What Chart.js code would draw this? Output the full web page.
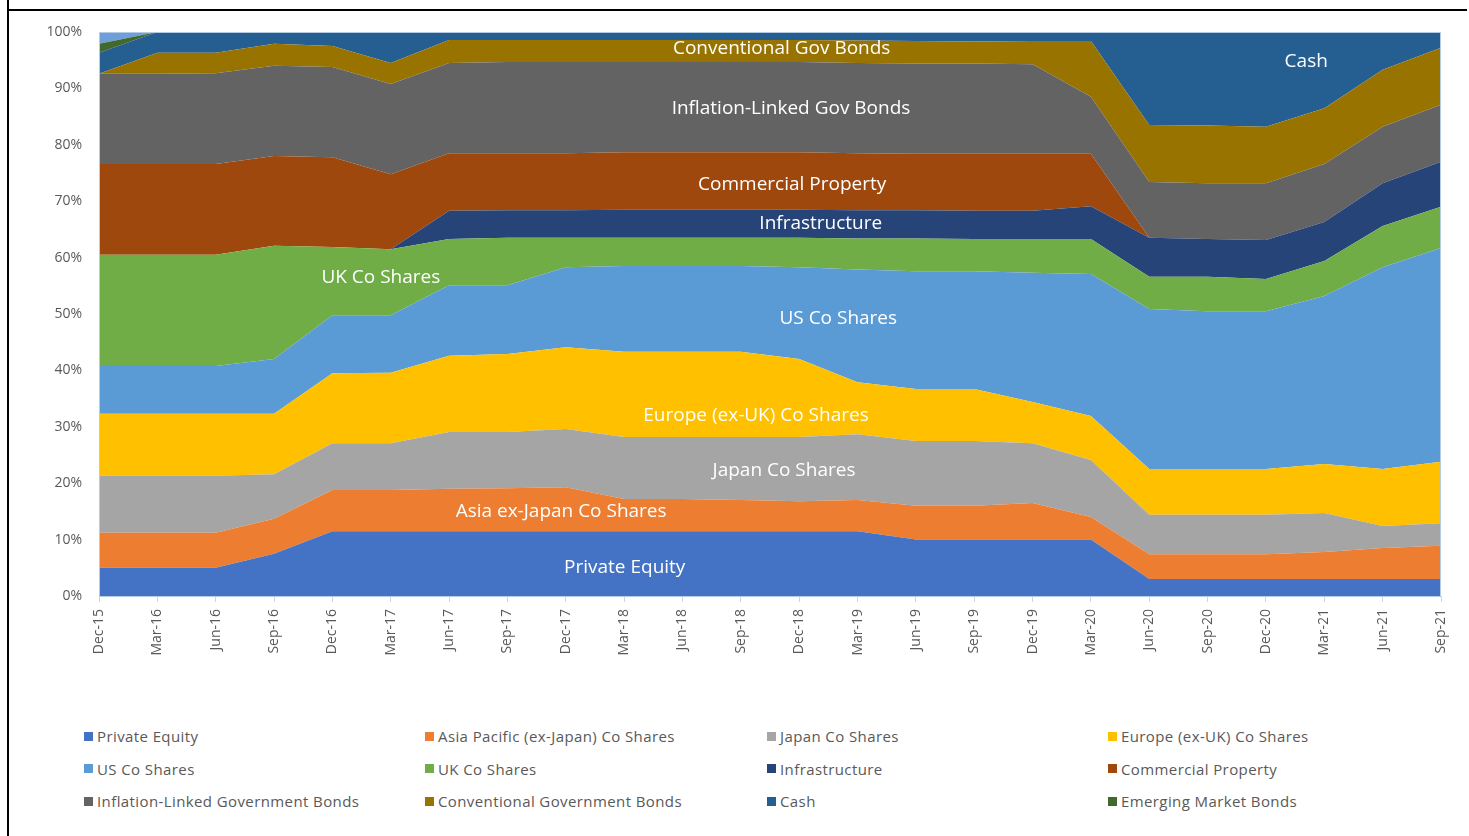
<!DOCTYPE html>
<html lang="en">
<head>
  <meta charset="UTF-8">
  <title>Historical Asset Allocation</title>
  <script src="https://cdn.jsdelivr.net/npm/chart.js"></script>
  <style>
    html, body { margin: 0; padding: 0; background: #fff; }
    body { width: 1469px; height: 836px; overflow: hidden; position: relative; font-family: "Open Sans", sans-serif; }
    .frame-top { position: absolute; left: 7px; top: 9px; width: 1460px; height: 0; border-top: 2px solid #000; }
    .frame-left { position: absolute; left: 7px; top: 0; width: 0; height: 836px; border-left: 2px solid #000; }
    #wrap { position: absolute; left: 0; top: 0; width: 1469px; height: 700px; }
    .legend { position: absolute; left: 84px; top: 720px; display: grid;
      grid-template-columns: 341px 342px 341px 320px; grid-auto-rows: 32.5px; }
    .legend-item { display: flex; align-items: center; font-size: 15px; color: #595959; letter-spacing: 0.4px; white-space: nowrap; }
    .legend-item i { display: inline-block; width: 9px; height: 9px; margin-right: 4px; }
  </style>
</head>
<body>
  <div class="frame-left"></div>
  <div class="frame-top"></div>
  <div id="wrap"><canvas id="allocChart" width="1469" height="700"></canvas></div>
  <div class="legend" id="legend"></div>

  <script>
    const quarters = ['Dec-15', 'Mar-16', 'Jun-16', 'Sep-16', 'Dec-16', 'Mar-17', 'Jun-17', 'Sep-17',
      'Dec-17', 'Mar-18', 'Jun-18', 'Sep-18', 'Dec-18', 'Mar-19', 'Jun-19', 'Sep-19',
      'Dec-19', 'Mar-20', 'Jun-20', 'Sep-20', 'Dec-20', 'Mar-21', 'Jun-21', 'Sep-21'];

    // allocation in % of fund, bottom of the stack first
    const privateEquity = [5, 5, 5, 7.5, 11.5, 11.5, 11.5, 11.5, 11.5, 11.5, 11.5, 11.5, 11.5, 11.5, 10, 10, 10, 10, 3, 3, 3, 3, 3, 3];
    const asiaPacific   = [6.2, 6.2, 6.2, 6.2, 7.3, 7.3, 7.5, 7.6, 7.8, 5.7, 5.7, 5.5, 5.3, 5.5, 6.0, 6.0, 6.5, 4.0, 4.4, 4.4, 4.4, 4.8, 5.5, 5.9];
    const japan         = [10.1, 10.1, 10.1, 7.9, 8.3, 8.3, 10.1, 10.0, 10.3, 11.0, 11.0, 11.2, 11.4, 11.7, 11.5, 11.5, 10.6, 10.1, 7.0, 7.0, 7.0, 6.9, 3.9, 4.0];
    const europe        = [11.0, 11.0, 11.0, 10.7, 12.4, 12.5, 13.5, 13.8, 14.5, 15.1, 15.1, 15.1, 13.8, 9.2, 9.2, 9.2, 7.3, 7.8, 8.1, 8.1, 8.1, 8.7, 10.1, 10.9];
    const usShares      = [8.5, 8.5, 8.5, 9.7, 10.3, 10.2, 12.5, 12.2, 14.2, 15.2, 15.2, 15.2, 16.3, 20.0, 20.9, 20.9, 22.9, 25.2, 28.4, 28.0, 28.0, 29.8, 35.8, 37.9];
    const ukShares      = [19.7, 19.7, 19.7, 20.1, 12.1, 11.7, 8.2, 8.4, 5.2, 5.0, 5.0, 5.0, 5.2, 5.5, 5.8, 5.7, 6.0, 6.2, 5.7, 6.1, 5.7, 6.2, 7.3, 7.3];
    const infrastructure = [0, 0, 0, 0, 0, 0, 5.0, 4.9, 4.9, 5.0, 5.0, 5.0, 5.0, 5.0, 5.0, 5.0, 5.0, 5.8, 6.9, 6.7, 6.9, 6.9, 7.6, 8.0];
    const property      = [16.1, 16.1, 16.1, 15.9, 15.9, 13.3, 10.2, 10.1, 10.1, 10.2, 10.2, 10.2, 10.2, 10.1, 10.0, 10.1, 10.1, 9.3, 0, 0, 0, 0, 0, 0];
    const inflationLinked = [16.0, 16.0, 16.1, 16.0, 16.0, 16.0, 16.0, 16.2, 16.2, 16.0, 16.0, 16.0, 16.0, 16.0, 16.0, 16.0, 15.9, 10.1, 9.9, 9.9, 10.1, 10.3, 10.0, 10.1];
    const conventional  = [0, 3.7, 3.6, 3.9, 3.7, 3.7, 4.1, 3.9, 3.9, 3.9, 3.9, 3.9, 3.9, 4.0, 4.0, 3.9, 4.1, 9.9, 10.1, 10.2, 10.0, 9.9, 10.1, 10.1];
    const cash          = [3.7, 3.7, 3.7, 2.1, 2.5, 5.5, 1.4, 1.4, 1.4, 1.4, 1.4, 1.4, 1.4, 1.5, 1.6, 1.7, 1.6, 1.6, 16.5, 16.6, 16.8, 13.5, 6.7, 2.8];
    const emergingBonds = [1.6, 0, 0, 0, 0, 0, 0, 0, 0, 0, 0, 0, 0, 0, 0, 0, 0, 0, 0, 0, 0, 0, 0, 0];
    const unassigned    = [2.1, 0, 0, 0, 0, 0, 0, 0, 0, 0, 0, 0, 0, 0, 0, 0, 0, 0, 0, 0, 0, 0, 0, 0];

    const seriesNames = ['Private Equity', 'Asia Pacific (ex-Japan) Co Shares', 'Japan Co Shares', 'Europe (ex-UK) Co Shares',
      'US Co Shares', 'UK Co Shares', 'Infrastructure', 'Commercial Property',
      'Inflation-Linked Government Bonds', 'Conventional Government Bonds', 'Cash', 'Emerging Market Bonds', ''];
    const seriesData = [privateEquity, asiaPacific, japan, europe, usShares, ukShares, infrastructure, property,
      inflationLinked, conventional, cash, emergingBonds, unassigned];
    const seriesColors = ['#4472C4', '#ED7D31', '#A5A5A5', '#FFC000', '#5B9BD5', '#70AD47', '#264478', '#9E480E',
      '#636363', '#997300', '#255E91', '#43682B', '#6F9FDB'];

    // labels written inside the bands: text, position on category axis, position in %
    const bandLabels = ['Conventional Gov Bonds', 'Inflation-Linked Gov Bonds', 'Commercial Property', 'Infrastructure',
      'UK Co Shares', 'US Co Shares', 'Europe (ex-UK) Co Shares', 'Japan Co Shares', 'Asia ex-Japan Co Shares',
      'Private Equity', 'Cash'];
    const bandLabelX = [11.70, 11.86, 11.88, 12.37, 4.83, 12.67, 11.26, 11.74, 7.92, 9.01, 20.69];
    const bandLabelY = [97.0, 86.5, 73.0, 66.1, 56.4, 49.1, 31.9, 22.2, 14.9, 5.1, 94.7];

    const bandText = {
      id: 'bandText',
      afterDatasetsDraw(chart) {
        const { ctx, scales: { x, y }, chartArea } = chart;
        ctx.save();
        ctx.strokeStyle = '#b4cbe6';
        ctx.lineWidth = 1;
        ctx.strokeRect(chartArea.left + 0.5, chartArea.top + 0.5, chartArea.width - 1, chartArea.height);
        ctx.fillStyle = '#ffffff';
        ctx.font = '19px "Open Sans", sans-serif';
        ctx.textAlign = 'center';
        ctx.textBaseline = 'middle';
        bandLabels.forEach((t, i) => {
          ctx.fillText(t, x.getPixelForValue(bandLabelX[i]), y.getPixelForValue(bandLabelY[i]));
        });
        ctx.restore();
      }
    };

    const ctx = document.getElementById('allocChart').getContext('2d');
    const chart = new Chart(ctx, {
      type: 'line',
      data: {
        labels: quarters,
        datasets: seriesData.map((d, i) => ({
          label: seriesNames[i],
          data: d,
          backgroundColor: seriesColors[i],
          borderColor: seriesColors[i],
          borderWidth: 0,
          pointRadius: 0,
          tension: 0,
          fill: i === 0 ? 'origin' : '-1'
        }))
      },
      options: {
        responsive: false,
        devicePixelRatio: 1,
        animation: false,
        layout: { padding: { top: 32, right: 28, left: 0, bottom: 0 } },
        plugins: {
          legend: { display: false },
          tooltip: { enabled: false }
        },
        scales: {
          x: {
            stacked: true,
            afterFit: s => { s.height = 104; },
            grid: { display: true, drawOnChartArea: false, tickLength: 6, color: '#c9d6e6' },
            border: { display: false },
            ticks: {
              autoSkip: false, maxRotation: 90, minRotation: 90, padding: 7,
              color: '#595959', font: { family: '"Open Sans", sans-serif', size: 14 }
            }
          },
          y: {
            stacked: true,
            min: 0,
            max: 100,
            afterFit: s => { s.width = 99; },
            grid: { display: false },
            border: { display: false },
            ticks: {
              stepSize: 10, padding: 9,
              color: '#595959', font: { family: '"Open Sans", sans-serif', size: 14 },
              callback: v => v + '%'
            }
          }
        }
      },
      plugins: [bandText]
    });

    // legend in four columns, like the original
    const legend = document.getElementById('legend');
    seriesNames.forEach((name, i) => {
      if (!name) return;
      const item = document.createElement('div');
      item.className = 'legend-item';
      item.innerHTML = `<i style="background:${seriesColors[i]}"></i>${name}`;
      legend.appendChild(item);
    });
  </script>
</body>
</html>
